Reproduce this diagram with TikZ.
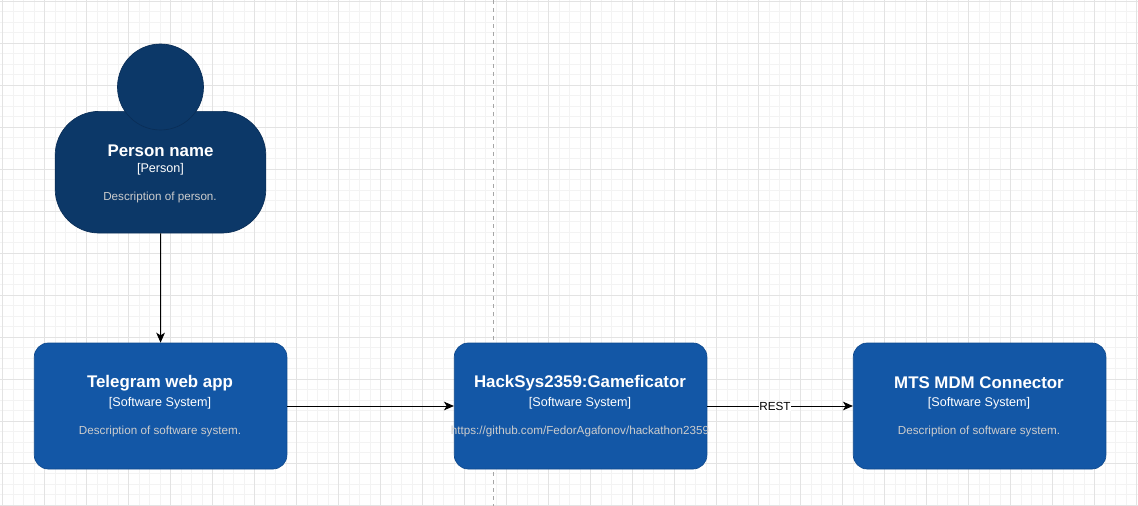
\documentclass[tikz,border=0pt]{standalone}
\usepackage{fontspec}
\setmainfont{Liberation Sans}
\usetikzlibrary{arrows.meta}
\definecolor{persblue}{HTML}{0C3868}
\definecolor{persedge}{HTML}{0A2E57}
\definecolor{sysblue}{HTML}{1357A6}
\definecolor{sysedge}{HTML}{0F4A8E}
\definecolor{descgray}{HTML}{CCCCCC}
\definecolor{majorgrid}{HTML}{E3E3E3}
\definecolor{minorgrid}{HTML}{F3F3F3}
\newcommand{\ttl}[1]{{\fontsize{12.65}{14}\selectfont\bfseries\color{white}#1}}
\newcommand{\typ}[1]{{\fontsize{9.45}{11}\selectfont\color{white}#1}}
\newcommand{\dsc}[1]{{\fontsize{8.75}{10}\selectfont\color{descgray}#1}}
\tikzset{
  minorline/.style={draw=minorgrid,line width=0.75pt},
  majorline/.style={draw=majorgrid,line width=0.75pt},
  sysbox/.style={draw=sysedge,fill=sysblue,rounded corners=10.5pt,minimum width=189.5pt,minimum height=94.5pt,inner sep=0pt,line width=0.5pt},
  bodybox/.style={draw=persedge,fill=persblue,rounded corners=33pt,minimum width=158pt,minimum height=91.25pt,inner sep=0pt,line width=0.5pt},
  headcirc/.style={circle,draw=persedge,fill=persblue,minimum size=64.5pt,inner sep=0pt,line width=0.5pt},
  txt/.style={inner sep=0pt,anchor=center},
  conn/.style={draw=black,line width=0.75pt,-{Stealth[length=7.5pt,width=6.5pt,inset=2pt]}},
  lbl/.style={fill=white,inner sep=0.3pt,font=\fontsize{8.8}{10}\selectfont,text=black},
  sep/.style={draw=black!35,line width=0.75pt,dash pattern=on 3pt off 3pt}
}
\begin{document}
\begin{tikzpicture}[x=0.75pt,y=-0.75pt]
\useasboundingbox (0,0) rectangle (1138,506);
\fill[white] (0,0) rectangle (1138,506);
% grid
\foreach \k in {0,...,108}{
  \draw[minorline] ({2.7+10.5*\k},0) -- ({2.7+10.5*\k},506);
}
\foreach \k in {0,...,48}{
  \draw[minorline] (0,{1.3+10.5*\k}) -- (1138,{1.3+10.5*\k});
}
\foreach \k in {0,...,27}{
  \draw[majorline] ({2.7+42*\k},0) -- ({2.7+42*\k},506);
}
\foreach \k in {0,...,12}{
  \draw[majorline] (0,{1.3+42*\k}) -- (1138,{1.3+42*\k});
}
% separator
\coordinate (septop) at (493.5,0);
\coordinate (sepbot) at (493.5,506);
\draw[sep] (septop) -- (sepbot);
% person
\node[bodybox] (body) at (160.5,172.2) {};
\node[headcirc] (head) at (160.5,87) {};
\node[txt] (ptitle) at (160.5,150.5) {\ttl{Person name}};
\node[txt] (ptype) at (160.5,169.5) {\typ{[Person]}};
\node[txt] (pdesc) at (160,197) {\dsc{Description of person.}};
% systems
\node[sysbox] (tg) at (160.6,406) {};
\node[txt] at (160,383) {\ttl{Telegram web app}};
\node[txt] at (160,403.5) {\typ{[Software System]}};
\node[txt] at (160,431) {\dsc{Description of software system.}};
\node[sysbox] (hs) at (580.6,406) {};
\node[txt] at (580,383) {\ttl{HackSys2359:Gameficator}};
\node[txt] at (580,403.5) {\typ{[Software System]}};
\node[txt] at (580,431) {\dsc{https://github.com/FedorAgafonov/hackathon2359}};
\node[sysbox] (mts) at (979.6,406) {};
\node[txt] at (979,383) {\ttl{MTS MDM Connector}};
\node[txt] at (979,403.5) {\typ{[Software System]}};
\node[txt] at (979,431) {\dsc{Description of software system.}};
% connectors
\draw[conn] (body) -- (tg);
\draw[conn] (tg) -- (hs);
\draw[conn] (hs) -- node[lbl,pos=0.465] {REST} (mts);
\end{tikzpicture}
\end{document}
